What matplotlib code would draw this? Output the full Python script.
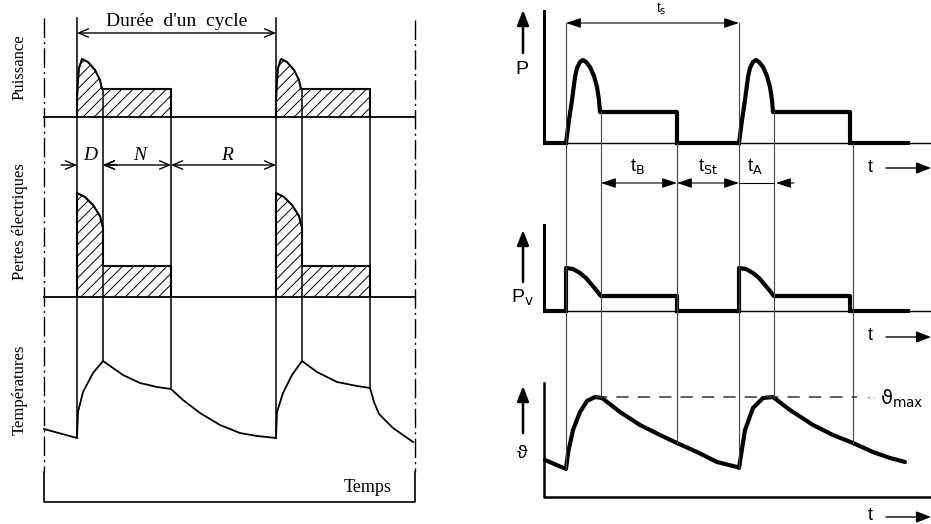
import numpy as np
import matplotlib
matplotlib.use("Agg")
import matplotlib.pyplot as plt

plt.rcParams['hatch.linewidth'] = 0.7

# ---------------- left diagram (time from cycle start, height above baseline) ----
left_starts = [0, 199]          # start of each cycle
left_d_len = 26                 # D : demarrage
left_n_end = 94                 # end of N (nominal) phase

# power curve of one cycle
lp_t = [0, 0, 1, 2, 5, 11, 18, 23, 25, 26, 94, 94]
lp_v = [0, 17, 37, 49, 58, 55, 47, 37, 28, 28, 28, 0]
# electrical losses of one cycle
ll_t = [0, 0, 8, 16, 23, 26, 26, 94, 94]
ll_v = [0, 104, 100, 92, 81, 69, 31, 31, 0]
# temperature, whole trace
lt_t = [-33, 0, 1, 6, 16, 26, 46, 63, 80, 94, 106, 123, 143, 163, 180, 199,
        200, 206, 215, 225, 240, 260, 280, 293, 297, 302, 316, 336]
lt_v = [73, 64, 90, 110, 129, 141, 127, 119, 115, 113, 102, 89, 77, 69, 66, 64,
        90, 109, 127, 141, 130, 120, 116, 114, 100, 88, 74, 60]

# ---------------- right diagram ---------------------------------------------
right_marks = [0, 35, 111, 173, 208, 287]
rp_t = [0, 3, 6, 9, 11, 14, 17, 20, 24, 28, 31, 33, 34, 35, 111, 111]
rp_v = [0, 23, 43, 66, 75, 81, 83, 81, 76, 67, 56, 43, 31, 31, 31, 0]
rv_t = [0, 0, 7, 14, 20, 26, 31, 34, 35, 111, 111]
rv_v = [0, 43, 42, 38, 33, 26, 20, 16, 15, 15, 0]
rt_t = [-21, 0, 2, 7, 14, 21, 29, 36, 54, 74, 94, 111, 131, 151, 171, 173,
        179, 187, 197, 207, 224, 247, 267, 287, 307, 324, 339]
rt_v = [37, 28, 44, 67, 85, 96, 100, 99, 85, 72, 62, 54, 45, 35, 30, 29,
        67, 89, 99, 100, 87, 72, 62, 54, 45, 39, 35]
theta_max = 100

# ---------------- layout (pixels) --------------------------------------------
W, H = 931, 524
LX0, LFR_L, LFR_R, LTOP, LBOT = 77, 44, 415, 18, 502
LB_P, LB_L, LB_T = 117, 297, 502
RX0, RAX, RR = 566, 544, 931
RB_P, RB_V, RB_T = 143, 311, 497

fig = plt.figure(figsize=(W / 100, H / 100), dpi=100)
ax = fig.add_axes([0, 0, 1, 1])
ax.set_xlim(0, W)
ax.set_ylim(H, 0)
ax.axis('off')

serif = 'Liberation Serif'
sans = 'Liberation Sans'
k = 'black'


def cyc(ts, vs, start, x0, base):
    return x0 + start + np.asarray(ts), base - np.asarray(vs)


# ----- left frame
dashdot = (0, (14, 3, 1.5, 3))
ax.plot([LFR_L, LFR_L], [LTOP, LBOT - 30], color=k, lw=1.0, ls=dashdot)
ax.plot([LFR_R, LFR_R], [LTOP + 2, LBOT - 30], color=k, lw=1.0, ls=dashdot)
ax.plot([LFR_L, LFR_L, LFR_R, LFR_R], [LBOT - 30, LBOT, LBOT, LBOT - 30], color=k, lw=1.2)
ax.plot([LFR_L, LFR_R], [LB_P, LB_P], color=k, lw=1.3)
ax.plot([LFR_L, LFR_R], [LB_L, LB_L], color=k, lw=1.3)

for s in left_starts:
    for ts, vs, base in [(lp_t, lp_v, LB_P), (ll_t, ll_v, LB_L)]:
        x, y = cyc(ts, vs, s, LX0, base)
        ax.fill(x, y, facecolor='none', edgecolor=k, hatch='///', lw=0)
        ax.plot(x, y, color=k, lw=1.5)

lt_x = LX0 + np.asarray(lt_t)
lt_y = LB_T - np.asarray(lt_v)
ax.plot(lt_x, lt_y, color=k, lw=1.3)

for s in left_starts:
    for t, top in [(s, LTOP), (s + left_d_len, LB_P - lp_v[9]),
                   (s + left_n_end, LB_P - lp_v[10])]:
        bottom = LB_T - np.interp(t, lt_t, lt_v)
        ax.plot([LX0 + t] * 2, [top, bottom], color=k, lw=1.1)

# dimension arrows
open_arr = dict(arrowstyle='<->,head_length=0.7,head_width=0.3', color=k, lw=1.0,
                shrinkA=0, shrinkB=0)
ax.annotate('', xy=(LX0 + left_starts[0], 33), xytext=(LX0 + left_starts[1], 33),
            arrowprops=open_arr)
ax.text(LX0 + 100, 21, "Durée  d'un  cycle", fontsize=14, family=serif,
        ha='center', va='center')
y_dnr = 165
one_arr = dict(arrowstyle='->,head_length=0.7,head_width=0.3', color=k, lw=1.0,
               shrinkA=0, shrinkB=0)
ax.annotate('', xy=(LX0, y_dnr), xytext=(LX0 - 16, y_dnr), arrowprops=one_arr)
ax.annotate('', xy=(LX0 + left_d_len, y_dnr), xytext=(LX0 + left_d_len + 14, y_dnr),
            arrowprops=one_arr)
ax.annotate('', xy=(LX0 + left_d_len, y_dnr), xytext=(LX0 + left_n_end, y_dnr),
            arrowprops=open_arr)
ax.annotate('', xy=(LX0 + left_n_end, y_dnr), xytext=(LX0 + left_starts[1], y_dnr),
            arrowprops=open_arr)
for lab, xc in [('D', LX0 + 13), ('N', LX0 + 63), ('R', LX0 + 150)]:
    ax.text(xc, 155, lab, fontsize=14, family=serif, style='italic',
            ha='center', va='center')

ax.text(20, 67, 'Puissance', rotation=90, fontsize=12, family=serif,
        ha='center', va='center')
ax.text(20, 222, 'Pertes électriques', rotation=90, fontsize=12, family=serif,
        ha='center', va='center')
ax.text(20, 390, 'Températures', rotation=90, fontsize=12, family=serif,
        ha='center', va='center')
ax.text(368, 488, 'Temps', fontsize=13, family=serif, ha='center', va='center')

# ----- right diagram
thick = 3.0
ax.plot([RAX, RAX], [11, RB_P], color=k, lw=2.2)
ax.plot([RAX, RAX], [225, RB_V], color=k, lw=2.2)
ax.plot([RAX, RAX, RR], [383, RB_T, RB_T], color=k, lw=1.8)
ax.plot([RAX, RR], [RB_P, RB_P], color=k, lw=1.0)
ax.plot([RAX, RR], [RB_V, RB_V], color=k, lw=1.0)

for base, ts, vs in [(RB_P, rp_t, rp_v), (RB_V, rv_t, rv_v)]:
    ax.plot([RAX, RX0], [base, base], color=k, lw=thick, solid_capstyle='butt')
    for s in (right_marks[0], right_marks[3]):
        x, y = cyc(ts, vs, s, RX0, base)
        ax.plot(x, y, color=k, lw=thick, solid_joinstyle='round')
    ax.plot([RX0 + right_marks[2], RX0 + right_marks[3]], [base, base], color=k, lw=thick)
    ax.plot([RX0 + right_marks[5], 908], [base, base], color=k, lw=thick)

ax.plot(RX0 + np.asarray(rt_t), RB_T - np.asarray(rt_v), color=k, lw=thick,
        solid_joinstyle='round', solid_capstyle='round')

# thin guide lines
tops = [23, RB_P - rp_v[13], RB_P, 23, RB_P - rp_v[13], RB_P]
for t, top in zip(right_marks, tops):
    bottom = RB_T - np.interp(t, rt_t, rt_v)
    ax.plot([RX0 + t] * 2, [top, bottom], color='#444444', lw=0.8)

ax.plot([RX0 + 29, RX0 + 291], [RB_T - theta_max] * 2, color='#333333', lw=1.1,
        ls=(0, (8, 6)))
ax.plot([868, 874], [RB_T - theta_max] * 2, color='#555555', lw=1.0, ls=(0, (1, 3)))
ax.text(880, RB_T - theta_max + 2, r'ϑ$_{\mathrm{max}}$', fontsize=14,
        family='DejaVu Sans', ha='left', va='center')

fill_arr = dict(arrowstyle='<|-|>,head_length=0.9,head_width=0.3', color=k, lw=0.8,
                shrinkA=0, shrinkB=0)
ax.annotate('', xy=(RX0, 23), xytext=(RX0 + right_marks[3], 23), arrowprops=fill_arr)
ax.text(661, 9, r't$_{\mathrm{s}}$', fontsize=10, family=sans, ha='center', va='center')

y_arr = 183
ax.annotate('', xy=(RX0 + right_marks[1], y_arr), xytext=(RX0 + right_marks[2], y_arr),
            arrowprops=fill_arr)
ax.annotate('', xy=(RX0 + right_marks[2], y_arr), xytext=(RX0 + right_marks[3], y_arr),
            arrowprops=fill_arr)
ax.annotate('', xy=(RX0 + right_marks[4] + 2, y_arr), xytext=(RX0 + right_marks[4] + 20, y_arr),
            arrowprops=dict(arrowstyle='-|>,head_length=0.9,head_width=0.3', color=k,
                            lw=0.8, shrinkA=0, shrinkB=0))
ax.plot([RX0 + right_marks[3], RX0 + right_marks[4]], [y_arr, y_arr], color=k, lw=0.8)
for lab, xc in [(r't$_{\mathrm{B}}$', 637), (r't$_{\mathrm{St}}$', 708),
                (r't$_{\mathrm{A}}$', 755)]:
    ax.text(xc, 166, lab, fontsize=13, family=sans, ha='center', va='center')

up_arr = dict(arrowstyle='-|>,head_length=0.9,head_width=0.35', color=k, lw=1.8,
              shrinkA=0, shrinkB=0)
for y0, y1, lab, yl in [(53, 10, 'P', 70), (282, 230, r'P$_{\mathrm{v}}$', 298),
                        (433, 386, 'ϑ', 453)]:
    ax.annotate('', xy=(523, y1), xytext=(523, y0), arrowprops=up_arr)
    ax.text(522, yl, lab, fontsize=14, family=[sans, 'DejaVu Sans'],
            ha='center', va='center')

right_arr = dict(arrowstyle='-|>,head_length=0.9,head_width=0.35', color=k, lw=1.0,
                 shrinkA=0, shrinkB=0)
for yy in (167, 336, 516):
    ax.text(870, yy, 't', fontsize=13, family=sans, ha='center', va='center')
    ax.annotate('', xy=(931, yy + 1), xytext=(886, yy + 1), arrowprops=right_arr)

fig.savefig('out.png', dpi=100, facecolor='white')
